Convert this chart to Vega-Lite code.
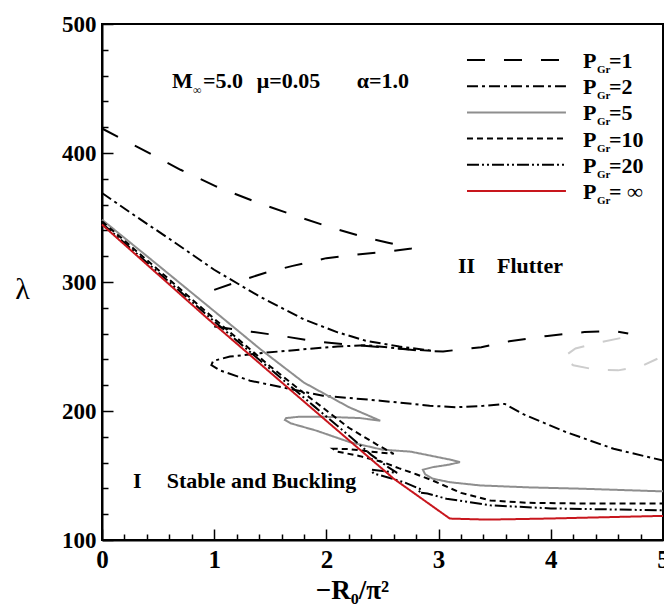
{
  "$schema": "https://vega.github.io/schema/vega-lite/v6.json",
  "width": 561,
  "height": 516,
  "autosize": {"type": "none"},
  "padding": {"left": 102, "top": 24, "right": 1, "bottom": 66},
  "background": "white",
  "config": {
    "view": {"stroke": "black", "strokeWidth": 2},
    "axis": {"labelOverlap": false, "labelFlush": false, "grid": false},
    "text": {"font": "Liberation Serif", "fontWeight": "bold", "fontSize": 22, "color": "black", "align": "left", "baseline": "alphabetic"}
  },
  "datasets": {
    "curves": [
      {"s": "g", "k": "ghost", "i": 0, "x": 4.62, "y": 256.5},
      {"s": "g", "k": "ghost", "i": 1, "x": 4.4, "y": 252.5},
      {"s": "g", "k": "ghost", "i": 2, "x": 4.22, "y": 248.5},
      {"s": "g", "k": "ghost", "i": 3, "x": 4.1, "y": 241},
      {"s": "g", "k": "ghost", "i": 4, "x": 4.2, "y": 235.5},
      {"s": "g", "k": "ghost", "i": 5, "x": 4.4, "y": 232},
      {"s": "g", "k": "ghost", "i": 6, "x": 4.6, "y": 231.5},
      {"s": "g", "k": "ghost", "i": 7, "x": 4.8, "y": 234.5},
      {"s": "g", "k": "ghost", "i": 8, "x": 4.95, "y": 240.5},

      {"s": "1a", "k": "1", "i": 0, "x": 0, "y": 419},
      {"s": "1a", "k": "1", "i": 1, "x": 0.34, "y": 403.6},
      {"s": "1a", "k": "1", "i": 2, "x": 0.7, "y": 387},
      {"s": "1a", "k": "1", "i": 3, "x": 1.02, "y": 374},
      {"s": "1a", "k": "1", "i": 4, "x": 1.36, "y": 362.4},
      {"s": "1a", "k": "1", "i": 5, "x": 1.7, "y": 352},
      {"s": "1a", "k": "1", "i": 6, "x": 2.03, "y": 342.5},
      {"s": "1a", "k": "1", "i": 7, "x": 2.37, "y": 334},
      {"s": "1a", "k": "1", "i": 8, "x": 2.55, "y": 330.5},
      {"s": "1a", "k": "1", "i": 9, "x": 2.76, "y": 326},
      {"s": "1a", "k": "1", "i": 10, "x": 2.55, "y": 323.5},
      {"s": "1a", "k": "1", "i": 11, "x": 2.3, "y": 321.5},
      {"s": "1a", "k": "1", "i": 12, "x": 2.0, "y": 318.5},
      {"s": "1a", "k": "1", "i": 13, "x": 1.7, "y": 312.5},
      {"s": "1a", "k": "1", "i": 14, "x": 1.45, "y": 307},
      {"s": "1a", "k": "1", "i": 15, "x": 1.2, "y": 300},
      {"s": "1a", "k": "1", "i": 16, "x": 0.93, "y": 291.7},

      {"s": "1b", "k": "1", "i": 0, "x": 1.0, "y": 265.5},
      {"s": "1b", "k": "1", "i": 1, "x": 1.33, "y": 261.5},
      {"s": "1b", "k": "1", "i": 2, "x": 1.6, "y": 258.2},
      {"s": "1b", "k": "1", "i": 3, "x": 1.9, "y": 254},
      {"s": "1b", "k": "1", "i": 4, "x": 2.2, "y": 251.5},
      {"s": "1b", "k": "1", "i": 5, "x": 2.54, "y": 249.2},
      {"s": "1b", "k": "1", "i": 6, "x": 2.87, "y": 246.5},
      {"s": "1b", "k": "1", "i": 7, "x": 3.04, "y": 246.1},
      {"s": "1b", "k": "1", "i": 8, "x": 3.21, "y": 247.9},
      {"s": "1b", "k": "1", "i": 9, "x": 3.38, "y": 249.5},
      {"s": "1b", "k": "1", "i": 10, "x": 3.63, "y": 254},
      {"s": "1b", "k": "1", "i": 11, "x": 3.97, "y": 258.2},
      {"s": "1b", "k": "1", "i": 12, "x": 4.3, "y": 261.2},
      {"s": "1b", "k": "1", "i": 13, "x": 4.57, "y": 262},
      {"s": "1b", "k": "1", "i": 14, "x": 4.69, "y": 260},

      {"s": "2", "k": "2", "i": 0, "x": 0, "y": 369},
      {"s": "2", "k": "2", "i": 1, "x": 0.3, "y": 351},
      {"s": "2", "k": "2", "i": 2, "x": 0.6, "y": 333.5},
      {"s": "2", "k": "2", "i": 3, "x": 1.0, "y": 309.5},
      {"s": "2", "k": "2", "i": 4, "x": 1.4, "y": 289},
      {"s": "2", "k": "2", "i": 5, "x": 1.8, "y": 271},
      {"s": "2", "k": "2", "i": 6, "x": 2.1, "y": 261},
      {"s": "2", "k": "2", "i": 7, "x": 2.35, "y": 254.5},
      {"s": "2", "k": "2", "i": 8, "x": 2.65, "y": 250},
      {"s": "2", "k": "2", "i": 9, "x": 2.95, "y": 246.5},
      {"s": "2", "k": "2", "i": 10, "x": 2.65, "y": 248.5},
      {"s": "2", "k": "2", "i": 11, "x": 2.35, "y": 251},
      {"s": "2", "k": "2", "i": 12, "x": 2.1, "y": 250},
      {"s": "2", "k": "2", "i": 13, "x": 1.82, "y": 248},
      {"s": "2", "k": "2", "i": 14, "x": 1.47, "y": 245.3},
      {"s": "2", "k": "2", "i": 15, "x": 1.14, "y": 242.2},
      {"s": "2", "k": "2", "i": 16, "x": 0.99, "y": 238.8},
      {"s": "2", "k": "2", "i": 17, "x": 0.975, "y": 235.5},
      {"s": "2", "k": "2", "i": 18, "x": 1.05, "y": 231.5},
      {"s": "2", "k": "2", "i": 19, "x": 1.32, "y": 223.5},
      {"s": "2", "k": "2", "i": 20, "x": 1.68, "y": 217},
      {"s": "2", "k": "2", "i": 21, "x": 1.97, "y": 211.8},
      {"s": "2", "k": "2", "i": 22, "x": 2.48, "y": 208},
      {"s": "2", "k": "2", "i": 23, "x": 2.92, "y": 204.1},
      {"s": "2", "k": "2", "i": 24, "x": 3.16, "y": 202.9},
      {"s": "2", "k": "2", "i": 25, "x": 3.4, "y": 204},
      {"s": "2", "k": "2", "i": 26, "x": 3.59, "y": 205.5},
      {"s": "2", "k": "2", "i": 27, "x": 3.75, "y": 197.7},
      {"s": "2", "k": "2", "i": 28, "x": 4.14, "y": 183.5},
      {"s": "2", "k": "2", "i": 29, "x": 4.56, "y": 170.7},
      {"s": "2", "k": "2", "i": 30, "x": 5.0, "y": 161.6},

      {"s": "5", "k": "5", "i": 0, "x": 0, "y": 348.3},
      {"s": "5", "k": "5", "i": 1, "x": 0.5, "y": 313},
      {"s": "5", "k": "5", "i": 2, "x": 1.07, "y": 272.4},
      {"s": "5", "k": "5", "i": 3, "x": 1.41, "y": 248},
      {"s": "5", "k": "5", "i": 4, "x": 1.8, "y": 222},
      {"s": "5", "k": "5", "i": 5, "x": 2.2, "y": 203},
      {"s": "5", "k": "5", "i": 6, "x": 2.48, "y": 192.5},
      {"s": "5", "k": "5", "i": 7, "x": 2.3, "y": 194.5},
      {"s": "5", "k": "5", "i": 8, "x": 2.0, "y": 195.5},
      {"s": "5", "k": "5", "i": 9, "x": 1.75, "y": 195.5},
      {"s": "5", "k": "5", "i": 10, "x": 1.64, "y": 194.5},
      {"s": "5", "k": "5", "i": 11, "x": 1.63, "y": 193},
      {"s": "5", "k": "5", "i": 12, "x": 1.68, "y": 190.5},
      {"s": "5", "k": "5", "i": 13, "x": 1.8, "y": 187.5},
      {"s": "5", "k": "5", "i": 14, "x": 1.91, "y": 184.8},
      {"s": "5", "k": "5", "i": 15, "x": 2.21, "y": 175.8},
      {"s": "5", "k": "5", "i": 16, "x": 2.5, "y": 170},
      {"s": "5", "k": "5", "i": 17, "x": 2.75, "y": 168.5},
      {"s": "5", "k": "5", "i": 18, "x": 2.95, "y": 165},
      {"s": "5", "k": "5", "i": 19, "x": 3.12, "y": 162},
      {"s": "5", "k": "5", "i": 20, "x": 3.19, "y": 160.4},
      {"s": "5", "k": "5", "i": 21, "x": 3.1, "y": 158.5},
      {"s": "5", "k": "5", "i": 22, "x": 2.95, "y": 156.5},
      {"s": "5", "k": "5", "i": 23, "x": 2.86, "y": 154.5},
      {"s": "5", "k": "5", "i": 24, "x": 2.88, "y": 151},
      {"s": "5", "k": "5", "i": 25, "x": 2.95, "y": 147.5},
      {"s": "5", "k": "5", "i": 26, "x": 3.1, "y": 144.8},
      {"s": "5", "k": "5", "i": 27, "x": 3.37, "y": 142.3},
      {"s": "5", "k": "5", "i": 28, "x": 3.8, "y": 140.8},
      {"s": "5", "k": "5", "i": 29, "x": 4.26, "y": 139.8},
      {"s": "5", "k": "5", "i": 30, "x": 5.0, "y": 137.7},

      {"s": "10", "k": "10", "i": 0, "x": 0, "y": 347},
      {"s": "10", "k": "10", "i": 1, "x": 0.5, "y": 309.5},
      {"s": "10", "k": "10", "i": 2, "x": 1.0, "y": 271.5},
      {"s": "10", "k": "10", "i": 3, "x": 1.5, "y": 234.5},
      {"s": "10", "k": "10", "i": 4, "x": 1.83, "y": 211.8},
      {"s": "10", "k": "10", "i": 5, "x": 2.2, "y": 187},
      {"s": "10", "k": "10", "i": 6, "x": 2.45, "y": 174},
      {"s": "10", "k": "10", "i": 7, "x": 2.6, "y": 166.8},
      {"s": "10", "k": "10", "i": 8, "x": 2.4, "y": 168.5},
      {"s": "10", "k": "10", "i": 9, "x": 2.2, "y": 170.5},
      {"s": "10", "k": "10", "i": 10, "x": 2.06, "y": 170.7},
      {"s": "10", "k": "10", "i": 11, "x": 2.1, "y": 168.5},
      {"s": "10", "k": "10", "i": 12, "x": 2.3, "y": 165},
      {"s": "10", "k": "10", "i": 13, "x": 2.5, "y": 160.5},
      {"s": "10", "k": "10", "i": 14, "x": 2.65, "y": 155.5},
      {"s": "10", "k": "10", "i": 15, "x": 2.8, "y": 151},
      {"s": "10", "k": "10", "i": 16, "x": 2.95, "y": 146},
      {"s": "10", "k": "10", "i": 17, "x": 3.2, "y": 136.5},
      {"s": "10", "k": "10", "i": 18, "x": 3.46, "y": 130.7},
      {"s": "10", "k": "10", "i": 19, "x": 3.8, "y": 128.8},
      {"s": "10", "k": "10", "i": 20, "x": 4.3, "y": 128.3},
      {"s": "10", "k": "10", "i": 21, "x": 5.0, "y": 128.2},

      {"s": "20", "k": "20", "i": 0, "x": 0, "y": 345.5},
      {"s": "20", "k": "20", "i": 1, "x": 0.5, "y": 307.5},
      {"s": "20", "k": "20", "i": 2, "x": 1.0, "y": 269.5},
      {"s": "20", "k": "20", "i": 3, "x": 1.5, "y": 232.5},
      {"s": "20", "k": "20", "i": 4, "x": 1.9, "y": 203},
      {"s": "20", "k": "20", "i": 5, "x": 2.2, "y": 181},
      {"s": "20", "k": "20", "i": 6, "x": 2.4, "y": 166},
      {"s": "20", "k": "20", "i": 7, "x": 2.55, "y": 156.5},
      {"s": "20", "k": "20", "i": 8, "x": 2.63, "y": 152},
      {"s": "20", "k": "20", "i": 9, "x": 2.5, "y": 153.5},
      {"s": "20", "k": "20", "i": 10, "x": 2.4, "y": 154.5},
      {"s": "20", "k": "20", "i": 11, "x": 2.42, "y": 151.5},
      {"s": "20", "k": "20", "i": 12, "x": 2.55, "y": 148.5},
      {"s": "20", "k": "20", "i": 13, "x": 2.7, "y": 144.5},
      {"s": "20", "k": "20", "i": 14, "x": 2.85, "y": 139},
      {"s": "20", "k": "20", "i": 15, "x": 2.82, "y": 137},
      {"s": "20", "k": "20", "i": 16, "x": 2.9, "y": 136},
      {"s": "20", "k": "20", "i": 17, "x": 3.07, "y": 132},
      {"s": "20", "k": "20", "i": 18, "x": 3.46, "y": 126.9},
      {"s": "20", "k": "20", "i": 19, "x": 4.0, "y": 124.5},
      {"s": "20", "k": "20", "i": 20, "x": 5.0, "y": 123},

      {"s": "inf", "k": "inf", "i": 0, "x": 0, "y": 344.5},
      {"s": "inf", "k": "inf", "i": 1, "x": 0.93, "y": 272.5},
      {"s": "inf", "k": "inf", "i": 2, "x": 1.8, "y": 207.3},
      {"s": "inf", "k": "inf", "i": 3, "x": 2.6, "y": 147.5},
      {"s": "inf", "k": "inf", "i": 4, "x": 3.1, "y": 116.6},
      {"s": "inf", "k": "inf", "i": 5, "x": 3.43, "y": 115.8},
      {"s": "inf", "k": "inf", "i": 6, "x": 3.96, "y": 116.6},
      {"s": "inf", "k": "inf", "i": 7, "x": 5.0, "y": 118.7}
    ],
    "legend": [
      {"k": "1", "t": "=1"},
      {"k": "2", "t": "=2"},
      {"k": "5", "t": "=5"},
      {"k": "10", "t": "=10"},
      {"k": "20", "t": "=20"},
      {"k": "inf", "t": "= ∞"}
    ]
  },
  "layer": [
    {
      "layer": [
        {
          "data": {"name": "curves"},
          "mark": {"type": "line", "strokeWidth": 2, "strokeCap": "butt"},
          "encoding": {
            "x": {
              "field": "x", "type": "quantitative", "axis": null,
              "scale": {"domain": [0, 5], "nice": false, "zero": false}
            },
            "y": {
              "field": "y", "type": "quantitative", "axis": null,
              "scale": {"domain": [100, 500], "nice": false, "zero": false}
            },
            "detail": {"field": "s"},
            "order": {"field": "i", "type": "quantitative"},
            "color": {
              "field": "k", "type": "nominal", "legend": null,
              "scale": {
                "domain": ["ghost", "1", "2", "5", "10", "20", "inf"],
                "range": ["#cdcdcd", "#000000", "#000000", "#8e8e8e", "#000000", "#000000", "#c8161d"]
              }
            },
            "strokeDash": {
              "field": "k", "type": "nominal", "legend": null,
              "scale": {
                "domain": ["ghost", "1", "2", "5", "10", "20", "inf"],
                "range": [[18, 19], [18, 19], [11, 4, 3, 4], [1, 0], [6, 4], [12, 3, 2, 3, 2, 3], [1, 0]]
              }
            }
          }
        },
        {
          "data": {"values": [{}]},
          "mark": {"type": "text", "text": "M"},
          "encoding": {"x": {"datum": 0.624, "type": "quantitative", "axis": null}, "y": {"datum": 450.1, "type": "quantitative", "axis": null}}
        },
        {
          "data": {"values": [{}]},
          "mark": {"type": "text", "text": "∞", "fontSize": 12, "fontWeight": "normal", "dx": 21, "dy": 6},
          "encoding": {"x": {"datum": 0.624, "type": "quantitative", "axis": null}, "y": {"datum": 450.1, "type": "quantitative", "axis": null}}
        },
        {
          "data": {"values": [{}]},
          "mark": {"type": "text", "text": "=5.0"},
          "encoding": {"x": {"datum": 0.9, "type": "quantitative", "axis": null}, "y": {"datum": 450.1, "type": "quantitative", "axis": null}}
        },
        {
          "data": {"values": [{}]},
          "mark": {"type": "text", "text": "μ=0.05"},
          "encoding": {"x": {"datum": 1.379, "type": "quantitative", "axis": null}, "y": {"datum": 450.1, "type": "quantitative", "axis": null}}
        },
        {
          "data": {"values": [{}]},
          "mark": {"type": "text", "text": "α=1.0"},
          "encoding": {"x": {"datum": 2.27, "type": "quantitative", "axis": null}, "y": {"datum": 450.1, "type": "quantitative", "axis": null}}
        },
        {
          "data": {"values": [{}]},
          "mark": {"type": "text", "text": "II"},
          "encoding": {"x": {"datum": 3.173, "type": "quantitative", "axis": null}, "y": {"datum": 306.8, "type": "quantitative", "axis": null}}
        },
        {
          "data": {"values": [{}]},
          "mark": {"type": "text", "text": "Flutter"},
          "encoding": {"x": {"datum": 3.52, "type": "quantitative", "axis": null}, "y": {"datum": 306.8, "type": "quantitative", "axis": null}}
        },
        {
          "data": {"values": [{}]},
          "mark": {"type": "text", "text": "I"},
          "encoding": {"x": {"datum": 0.276, "type": "quantitative", "axis": null}, "y": {"datum": 140.3, "type": "quantitative", "axis": null}}
        },
        {
          "data": {"values": [{}]},
          "mark": {"type": "text", "text": "Stable and Buckling"},
          "encoding": {"x": {"datum": 0.577, "type": "quantitative", "axis": null}, "y": {"datum": 140.3, "type": "quantitative", "axis": null}}
        }
      ]
    },
    {
      "data": {"values": [{}]},
      "mark": {"type": "point", "opacity": 0},
      "encoding": {
        "x": {
          "datum": 0, "type": "quantitative",
          "axis": {
            "orient": "bottom",
            "values": [0.2, 0.4, 0.6, 0.8, 1.2, 1.4, 1.6, 1.8, 2.2, 2.4, 2.6, 2.8, 3.2, 3.4, 3.6, 3.8, 4.2, 4.4, 4.6, 4.8],
            "labels": false, "domain": false, "grid": false, "title": null,
            "tickSize": -6, "tickColor": "black", "tickWidth": 1.5, "tickCap": "butt"
          }
        },
        "y": {
          "datum": 100, "type": "quantitative",
          "scale": {"domain": [100, 500], "nice": false, "zero": false},
          "axis": {
            "orient": "left",
            "values": [120, 140, 160, 180, 220, 240, 260, 280, 320, 340, 360, 380, 420, 440, 460, 480],
            "labels": false, "domain": false, "grid": false, "title": null,
            "tickSize": -6, "tickColor": "black", "tickWidth": 1.5, "tickCap": "butt"
          }
        }
      }
    },
    {
      "data": {"values": [{}]},
      "mark": {"type": "point", "opacity": 0},
      "encoding": {
        "x": {
          "datum": 0, "type": "quantitative",
          "axis": {
            "orient": "bottom",
            "title": "−R₀/π²",
            "values": [0, 1, 2, 3, 4, 5],
            "format": "d",
            "tickSize": -11,
            "tickColor": "black", "tickWidth": 1.5, "tickCap": "butt",
            "domainColor": "black", "domainWidth": 2,
            "grid": false,
            "labelPadding": 18, "labelFlush": false, "labelOverlap": false,
            "labelFont": "Liberation Serif", "labelFontWeight": "bold", "labelFontSize": 25, "labelColor": "black",
            "titleFont": "Liberation Serif", "titleFontWeight": "bold", "titleFontSize": 27, "titleColor": "black",
            "titleX": 250, "titleY": 58, "titleAlign": "center", "titleBaseline": "alphabetic"
          }
        },
        "y": {
          "datum": 100, "type": "quantitative",
          "scale": {"domain": [100, 500], "nice": false, "zero": false},
          "axis": {
            "orient": "left",
            "title": "λ",
            "values": [100, 200, 300, 400, 500],
            "tickSize": -11,
            "tickColor": "black", "tickWidth": 1.5, "tickCap": "butt",
            "domainColor": "black", "domainWidth": 2,
            "grid": false,
            "labelPadding": 17, "labelFlush": false, "labelOverlap": false,
            "labelFont": "Liberation Serif", "labelFontWeight": "bold", "labelFontSize": 23, "labelColor": "black",
            "titleFont": "Liberation Serif", "titleFontWeight": "normal", "titleFontSize": 30, "titleColor": "black",
            "titleAngle": 0, "titleX": -80, "titleY": 265, "titleAlign": "center", "titleBaseline": "middle"
          }
        }
      }
    },
    {
      "data": {"name": "legend"},
      "layer": [
        {
          "mark": {"type": "rule", "strokeWidth": 2, "strokeCap": "butt"},
          "encoding": {
            "x": {"datum": 3.253, "type": "quantitative", "axis": null},
            "x2": {"datum": 4.135},
            "y": {"field": "k", "type": "ordinal", "axis": null,
                  "scale": {"type": "point", "domain": ["1", "2", "5", "10", "20", "inf"], "range": [36, 167], "padding": 0}},
            "color": {"field": "k", "type": "nominal", "legend": null},
            "strokeDash": {"field": "k", "type": "nominal", "legend": null}
          }
        },
        {
          "mark": {"type": "text", "text": "P", "dy": 8},
          "encoding": {
            "x": {"datum": 4.287, "type": "quantitative", "axis": null},
            "y": {"field": "k", "type": "ordinal", "axis": null}
          }
        },
        {
          "mark": {"type": "text", "text": "Gr", "fontSize": 11, "dx": 14, "dy": 13},
          "encoding": {
            "x": {"datum": 4.287, "type": "quantitative", "axis": null},
            "y": {"field": "k", "type": "ordinal", "axis": null}
          }
        },
        {
          "mark": {"type": "text", "dx": 26, "dy": 8},
          "encoding": {
            "x": {"datum": 4.287, "type": "quantitative", "axis": null},
            "y": {"field": "k", "type": "ordinal", "axis": null},
            "text": {"field": "t"}
          }
        }
      ]
    }
  ],
  "resolve": {"scale": {"y": "independent"}, "axis": {"x": "independent", "y": "independent"}}
}
